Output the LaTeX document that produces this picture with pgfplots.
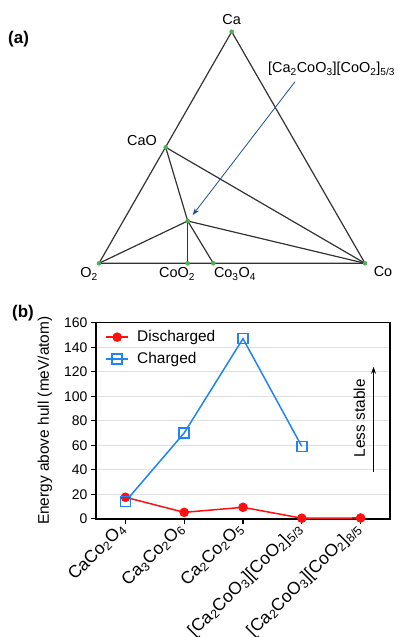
\documentclass[border=0pt]{standalone}
\usepackage{fontspec}
\setmainfont{Liberation Sans}
\usepackage{pgfplots}
\pgfplotsset{compat=1.18}
\usetikzlibrary{arrows.meta}
\definecolor{dis}{HTML}{FF1010}
\definecolor{chg}{HTML}{2084F5}
\definecolor{pt}{HTML}{4CAF50}
\definecolor{edge}{HTML}{333333}
\definecolor{arr}{HTML}{1C4F8F}
\newcommand\f{\fontsize{14}{17}\selectfont}
\newcommand\fa{\fontsize{14.5}{17}\selectfont}
\newcommand\fl{\fontsize{15.5}{18}\selectfont}
\newcommand\fx{\fontsize{17.5}{20}\selectfont}
\newcommand\s[1]{\textsubscript{#1}}

\begin{document}
\begin{tikzpicture}
\useasboundingbox (0,0) rectangle (415bp,637bp);

% panel (a): ternary diagram, coordinates in picture pixels
\begin{axis}[
    at={(0,0)}, anchor=south west,
    scale only axis, width=415bp, height=637bp,
    xmin=0, xmax=415, ymin=0, ymax=637, y dir=reverse,
    hide axis, clip=false,
]
\addplot[edge, line width=1.2bp] coordinates {(99,263.3)(231.7,31.7)(365,263.3)(99,263.3)};
\addplot[edge, line width=1.2bp] coordinates {(165.7,147.3)(365,263.3)};
\addplot[edge, line width=1.2bp] coordinates {(165.7,147.3)(187.7,221)(213.3,263.3)};
\addplot[edge, line width=1.2bp] coordinates {(187.7,221)(187.7,263.3)};
\addplot[edge, line width=1.2bp] coordinates {(99,263.3)(187.7,221)(365,263.3)};
\addplot[only marks, mark=*, mark size=2bp, pt] coordinates {
    (231.7,31.7)(165.7,147.3)(99,263.3)(365,263.3)
    (187.7,263.3)(213.3,263.3)(187.7,221)
};
\draw[arr, line width=0.8bp, -{Stealth[length=7bp,width=5bp]}] (axis cs:295,81.7) -- (axis cs:192.7,215);
\node[anchor=base, font=\fa] at (axis cs:231.7,25) {Ca};
\node[anchor=base east, font=\fa, inner sep=0pt] at (axis cs:157,146) {CaO};
\node[anchor=base, font=\fa] at (axis cs:89,278) {O\s{2}};
\node[anchor=base, font=\fa] at (axis cs:177,278) {CoO\s{2}};
\node[anchor=base, font=\fa] at (axis cs:235,278) {Co\s{3}O\s{4}};
\node[anchor=base, font=\fa] at (axis cs:383,277) {Co};
\node[anchor=base west, font=\fa, inner sep=0pt] at (axis cs:268,73) {[Ca\s{2}CoO\s{3}][CoO\s{2}]\s{5/3}};
\node[anchor=base west, font=\fontsize{17}{20}\selectfont\bfseries, inner sep=0pt] at (axis cs:8,44) {(a)};
\node[anchor=base west, font=\fontsize{17}{20}\selectfont\bfseries, inner sep=0pt] at (axis cs:12,318) {(b)};
\end{axis}

% panel (b): energy above hull
\begin{axis}[
    at={(96bp,118.3bp)}, anchor=south west,
    scale only axis, width=294bp, height=196bp,
    xmin=-0.5, xmax=4.5, ymin=0, ymax=160,
    xtick={0,1,2,3,4},
    xticklabels={CaCo\s{2}O\s{4}, Ca\s{3}Co\s{2}O\s{6}, Ca\s{2}Co\s{2}O\s{5},
        [Ca\s{2}CoO\s{3}][CoO\s{2}]\s{5/3}, [Ca\s{2}CoO\s{3}][CoO\s{2}]\s{8/5}},
    ytick={0,20,...,160},
    xtick pos=bottom, ytick pos=left, tick align=outside,
    major tick length=5bp,
    tick style={black, line width=1.3bp},
    axis line style={line width=1.6bp},
    ymajorgrids, grid style={black!12, line width=0.8bp},
    yticklabel style={font=\f},
    /pgf/number format/assume math mode=true,
    xticklabel style={font=\fx, rotate=45, anchor=east},
    ylabel={Energy above hull (meV/atom)},
    ylabel style={font=\fl, at={(axis description cs:-0.174,0.5)}, anchor=center},
    legend style={at={(0.02,0.98)}, anchor=north west, draw=none, fill=none,
        font=\fl, row sep=5bp, cells={anchor=west}},
    legend image code/.code={\draw[mark repeat=2, mark phase=2] plot coordinates {(0cm,0cm)(0.4cm,0cm)(0.8cm,0cm)};
        \path (0.8cm+6bp,0cm);},
    clip=false,
]
\addplot[dis, line width=1.5bp, mark=*, mark size=4bp] coordinates {
    (0,17.5)(1,5.2)(2,9.3)(3,0.4)(4,0.6)
};
\addplot[chg, line width=1.5bp, mark=square, mark size=5bp, mark options={line width=1.5bp}] coordinates {
    (0,14)(1,70)(2,147)(3,59)
};
\legend{Discharged, Charged}
\draw[black, line width=1bp, -{Stealth[length=7bp,width=5bp]}] (axis cs:4.22,38.4) -- (axis cs:4.22,124);
\node[rotate=90, font=\fl] at (axis cs:3.98,82) {Less stable};
\end{axis}
\end{tikzpicture}
\end{document}
